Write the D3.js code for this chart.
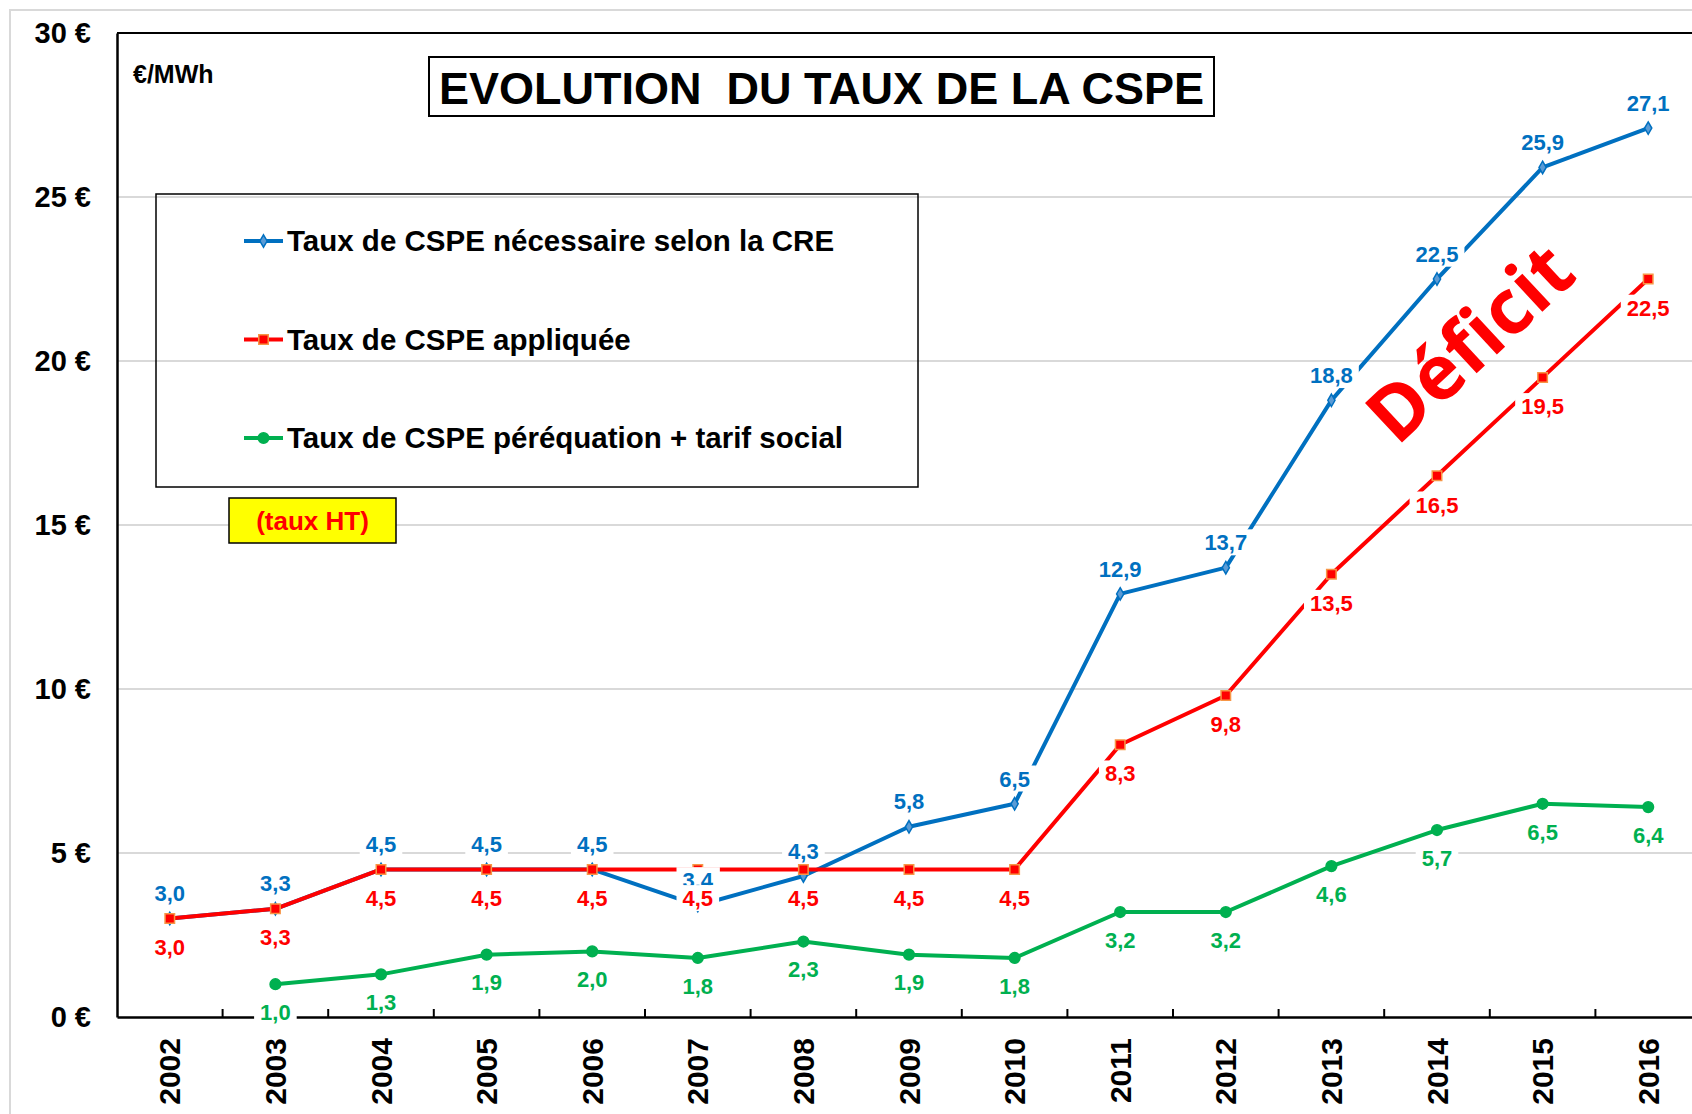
<!DOCTYPE html>
<html>
<head>
<meta charset="utf-8">
<script src="https://cdn.jsdelivr.net/npm/d3@7"></script>
<style>
body { margin: 0; background: #fff; }
svg { display: block; font-family: Arial, "Liberation Sans", sans-serif; }
</style>
</head>
<body>
<svg width="1692" height="1114"></svg>
<script>

const years = [2002, 2003, 2004, 2005, 2006, 2007, 2008, 2009, 2010, 2011, 2012, 2013, 2014, 2015, 2016]
const creRate = [3.0, 3.3, 4.5, 4.5, 4.5, 3.4, 4.3, 5.8, 6.5, 12.9, 13.7, 18.8, 22.5, 25.9, 27.1]
const appliedRate = [3.0, 3.3, 4.5, 4.5, 4.5, 4.5, 4.5, 4.5, 4.5, 8.3, 9.8, 13.5, 16.5, 19.5, 22.5]
const socialRate = [null, 1.0, 1.3, 1.9, 2.0, 1.8, 2.3, 1.9, 1.8, 3.2, 3.2, 4.6, 5.7, 6.5, 6.4]
const yTicks = [0, 5, 10, 15, 20, 25, 30]
const seriesNames = ["Taux de CSPE nécessaire selon la CRE", "Taux de CSPE appliquée", "Taux de CSPE péréquation + tarif social"]

const width = 1692
const height = 1114
const left = 117
const step = 105.6

const svg = d3.select("svg")

var x = d3.scaleBand()
	.domain(years)
	.range([left, left + years.length * step])
	.padding(0)
var cx = d => x(d) + x.bandwidth() / 2

var y = d3.scaleLinear()
	.domain([0, 30])
	.range([1017, 33])

var fmt = v => d3.format(".1f")(v).replace(".", ",")

// series: colour, marker, label offset
var series = [
	{ name: seriesNames[0], values: creRate, color: "#0070c0", symbol: d3.symbolDiamond, size: 45, fill: "#5b9bd5", stroke: "#0070c0", dy: -25 },
	{ name: seriesNames[1], values: appliedRate, color: "#ff0000", symbol: d3.symbolSquare, size: 90, fill: "#ff0000", stroke: "#f79646", dy: 29 },
	{ name: seriesNames[2], values: socialRate, color: "#00b050", symbol: d3.symbolCircle, size: 90, fill: "#00b050", stroke: "#00b050", dy: 28 }
]

// outer frame
svg.append("rect").attr("x", 10).attr("y", 10).attr("width", width).attr("height", height)
	.attr("fill", "none").attr("stroke", "#d9d9d9").attr("stroke-width", 2)

// grid
svg.append("g").selectAll("line")
	.data(yTicks.filter(t => t > 0 && t < 30))
	.join("line")
	.attr("x1", left).attr("x2", width)
	.attr("y1", d => y(d)).attr("y2", d => y(d))
	.attr("stroke", "#d9d9d9").attr("stroke-width", 2)

svg.append("line")
	.attr("x1", left).attr("x2", width)
	.attr("y1", y(30)).attr("y2", y(30))
	.attr("stroke", "#000").attr("stroke-width", 2)

// y axis
var yAxis = svg.append("g")
	.attr("transform", "translate(" + left + ",0)")
	.call(d3.axisLeft(y).tickValues(yTicks).tickSize(0).tickPadding(26).tickFormat(d => d + " €"))
yAxis.select(".domain").attr("stroke", "#000").attr("stroke-width", 2.5)
yAxis.selectAll("text")
	.attr("font-family", "Arial, 'Liberation Sans', sans-serif")
	.attr("font-size", 29).attr("font-weight", "bold").attr("fill", "#000")

// x axis
var xAxis = svg.append("g")
	.attr("transform", "translate(0," + y(0) + ")")
	.call(d3.axisBottom(x).tickSizeInner(0).tickSizeOuter(0))
xAxis.select(".domain").attr("stroke", "#000").attr("stroke-width", 2.5)
xAxis.selectAll("text")
	.attr("font-family", "Arial, 'Liberation Sans', sans-serif")
	.attr("font-size", 30).attr("font-weight", "bold").attr("fill", "#000")
	.attr("transform", "rotate(-90)")
	.attr("text-anchor", "end")
	.attr("x", -21).attr("y", 0).attr("dy", "0.35em")

xAxis.append("g").selectAll("line")
	.data(years.slice(1))
	.join("line")
	.attr("x1", d => x(d)).attr("x2", d => x(d))
	.attr("y1", 0).attr("y2", -8)
	.attr("stroke", "#000").attr("stroke-width", 2)

// lines
var line = d3.line()
	.defined(d => d.v != null)
	.x(d => cx(d.year))
	.y(d => y(d.v))

series.forEach(s => {
	s.points = years.map((yr, i) => ({ year: yr, v: s.values[i] }))
	svg.append("path")
		.datum(s.points)
		.attr("fill", "none")
		.attr("stroke", s.color)
		.attr("stroke-width", 4)
		.attr("stroke-linejoin", "round")
		.attr("d", line)
})

series.forEach(s => {
	svg.append("g").selectAll("path")
		.data(s.points.filter(d => d.v != null))
		.join("path")
		.attr("transform", d => "translate(" + cx(d.year) + "," + y(d.v) + ")")
		.attr("d", d3.symbol().type(s.symbol).size(s.size))
		.attr("fill", s.fill)
		.attr("stroke", s.stroke)
		.attr("stroke-width", 1.5)
})

// data labels with white background
series.forEach(s => {
	s.points.filter(d => d.v != null).forEach(d => {
		var g = svg.append("g")
		var t = g.append("text")
			.attr("x", cx(d.year))
			.attr("y", y(d.v) + s.dy)
			.attr("dy", "0.35em")
			.attr("text-anchor", "middle")
			.attr("font-size", 22).attr("font-weight", "bold")
			.attr("fill", s.color)
			.text(fmt(d.v))
		var b = t.node().getBBox()
		g.insert("rect", "text")
			.attr("x", b.x - 6).attr("y", b.y - 1)
			.attr("width", b.width + 12).attr("height", b.height + 1)
			.attr("fill", "#fff")
	})
})

// legend
svg.append("rect")
	.attr("x", 156).attr("y", 194).attr("width", 762).attr("height", 293)
	.attr("fill", "none").attr("stroke", "#000").attr("stroke-width", 1.5)

series.forEach((s, i) => {
	var ly = 241 + i * 98.5
	svg.append("line")
		.attr("x1", 244).attr("x2", 283).attr("y1", ly).attr("y2", ly)
		.attr("stroke", s.color).attr("stroke-width", 4)
	svg.append("path")
		.attr("transform", "translate(263.5," + ly + ")")
		.attr("d", d3.symbol().type(s.symbol).size(s.size))
		.attr("fill", s.fill).attr("stroke", s.stroke).attr("stroke-width", 1.5)
	svg.append("text")
		.attr("x", 287).attr("y", ly).attr("dy", "0.35em")
		.attr("font-size", 29.5).attr("font-weight", "bold").attr("fill", "#000")
		.text(s.name)
})

// title
svg.append("rect")
	.attr("x", 429).attr("y", 57).attr("width", 785).attr("height", 59)
	.attr("fill", "#fff").attr("stroke", "#000").attr("stroke-width", 2)
svg.append("text")
	.attr("x", 821.5).attr("y", 104)
	.attr("text-anchor", "middle")
	.attr("font-size", 45).attr("font-weight", "bold")
	.attr("xml:space", "preserve")
	.text("EVOLUTION  DU TAUX DE LA CSPE")

svg.append("text")
	.attr("x", 133).attr("y", 83)
	.attr("font-size", 25).attr("font-weight", "bold")
	.text("€/MWh")

// (taux HT)
svg.append("rect")
	.attr("x", 229).attr("y", 498).attr("width", 167).attr("height", 45)
	.attr("fill", "#ffff00").attr("stroke", "#000").attr("stroke-width", 1.5)
svg.append("text")
	.attr("x", 312.5).attr("y", 520.5).attr("dy", "0.35em")
	.attr("text-anchor", "middle")
	.attr("font-size", 26).attr("font-weight", "bold").attr("fill", "#ff0000")
	.text("(taux HT)")

// Déficit
svg.append("text")
	.attr("transform", "translate(1470,343) rotate(-43)")
	.attr("text-anchor", "middle")
	.attr("dy", "0.35em")
	.attr("font-family", "'Open Sans', sans-serif")
	.attr("font-size", 76).attr("font-weight", "bold").attr("fill", "#ff0000")
	.text("Déficit")

</script>
</body>
</html>
